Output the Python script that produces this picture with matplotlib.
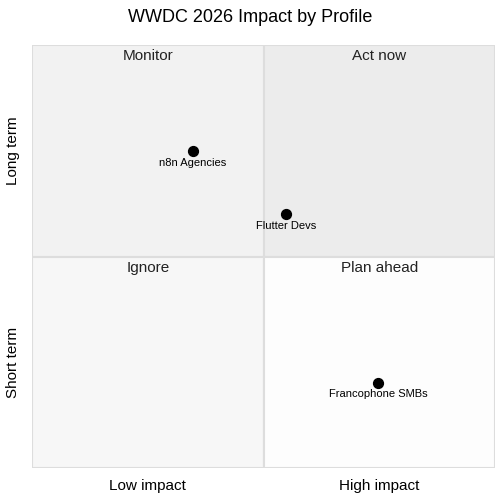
import matplotlib
matplotlib.use("Agg")
import matplotlib.pyplot as plt
from matplotlib.patches import Rectangle

plt.rcParams['font.family'] = ['Liberation Sans', 'DejaVu Sans']

names = ["n8n Agencies", "Flutter Devs", "Francophone SMBs"]
impact = [0.348, 0.549, 0.747]
horizon = [0.749, 0.600, 0.201]
quadrants = ["Monitor", "Act now", "Ignore", "Plan ahead"]

fig = plt.figure(figsize=(5, 5), dpi=100)
ax = fig.add_axes([0.064, 0.064, 0.926, 0.846])
ax.set_xlim(0, 1); ax.set_ylim(0, 1)
fills = {(0, 0.5): "#f2f2f2", (0.5, 0.5): "#ececec", (0, 0): "#f7f7f7", (0.5, 0): "#fdfdfd"}
for (x0, y0), c in fills.items():
    ax.add_patch(Rectangle((x0, y0), 0.5, 0.5, facecolor=c, edgecolor="#dddddd", lw=1.5))
pos = [(0.25, 1), (0.75, 1), (0.25, 0.5), (0.75, 0.5)]
for (x, y), q in zip(pos, quadrants):
    ax.text(x, y - 0.01, q, ha="center", va="top", fontsize=11, color="#222222")
ax.scatter(impact, horizon, s=50, color="black", zorder=3)
for x, y, n in zip(impact, horizon, names):
    ax.text(x, y - 0.015, n, ha="center", va="top", fontsize=8)
ax.set_xticks([]); ax.set_yticks([])
for s in ax.spines.values():
    s.set_visible(False)
ax.text(0.25, -0.025, "Low impact", ha="center", va="top", fontsize=11, transform=ax.transAxes)
ax.text(0.75, -0.025, "High impact", ha="center", va="top", fontsize=11, transform=ax.transAxes)
ax.text(-0.025, 0.75, "Long term", ha="right", va="center", rotation=90, fontsize=11, transform=ax.transAxes)
ax.text(-0.025, 0.25, "Short term", ha="right", va="center", rotation=90, fontsize=11, transform=ax.transAxes)
fig.text(0.5, 0.965, "WWDC 2026 Impact by Profile", ha="center", va="center", fontsize=13)
fig.savefig("out.png", dpi=100, facecolor="white")
